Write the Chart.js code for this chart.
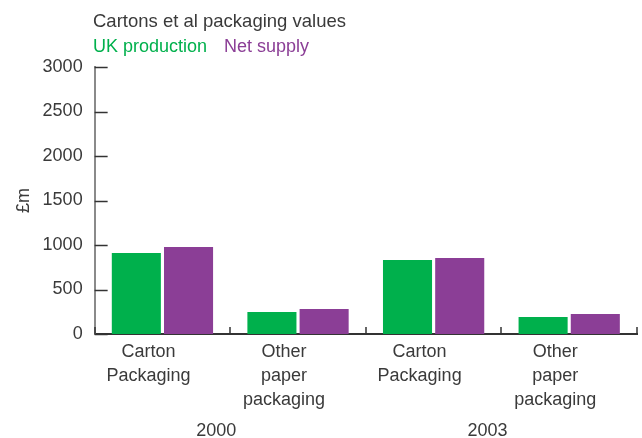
<!DOCTYPE html>
<html>
<head>
<meta charset="utf-8">
<script src="https://cdn.jsdelivr.net/npm/chart.js@4/dist/chart.umd.min.js"></script>
<style>
  html, body { margin: 0; padding: 0; background: #ffffff; }
  #wrap { width: 642px; height: 438px; }
</style>
</head>
<body>
<div id="wrap"><canvas id="chart" width="642" height="438"></canvas></div>
<script>
// Packaging values (£m) by product group and year
const chartTitle = 'Cartons et al packaging values';
const categories = [
  ['Carton', 'Packaging'],
  ['Other', 'paper', 'packaging'],
  ['Carton', 'Packaging'],
  ['Other', 'paper', 'packaging']
];
const years = ['2000', '2003'];
const seriesNames = ['UK production', 'Net supply'];
const ukProduction = [910, 247, 831, 191];
const netSupply = [977, 281, 854, 225];
const yAxisTitle = '£m';

const GREEN = '#00b04c';
const PURPLE = '#8b3e96';
const TEXT = '#3a3a3a';
const FONT = '"Liberation Sans", Arial, sans-serif';

Chart.defaults.font.family = FONT;
Chart.defaults.font.size = 18;
Chart.defaults.color = TEXT;

// Title line plus a coloured text-only key above the plot,
// and the year under each pair of categories
const headerPlugin = {
  id: 'header',
  afterDraw(chart) {
    const ctx = chart.ctx;
    const xs = chart.scales.x;
    ctx.save();
    ctx.textBaseline = 'alphabetic';
    ctx.textAlign = 'left';
    ctx.font = '18.5px ' + FONT;
    ctx.fillStyle = TEXT;
    ctx.fillText(chartTitle, 93, 27);
    ctx.font = '18px ' + FONT;
    let x = 93;
    chart.data.datasets.forEach(ds => {
      ctx.fillStyle = ds.backgroundColor;
      ctx.fillText(ds.label, x, 52);
      x += ctx.measureText(ds.label).width + 17;
    });
    // each year spans two categories
    ctx.textAlign = 'center';
    ctx.fillStyle = TEXT;
    years.forEach((yr, g) => {
      const cx = (xs.getPixelForValue(2 * g) + xs.getPixelForValue(2 * g + 1)) / 2 - 14;
      ctx.fillText(yr, cx, 436);
    });
    ctx.restore();
  }
};

// Short inward tick marks on both axes
const innerTicksPlugin = {
  id: 'innerTicks',
  afterDatasetsDraw(chart) {
    const ctx = chart.ctx;
    const xs = chart.scales.x;
    const ys = chart.scales.y;
    const area = chart.chartArea;
    ctx.save();
    ctx.lineWidth = 1.5;
    ctx.strokeStyle = '#333333';
    ys.ticks.forEach((t, i) => {
      const py = Math.round(ys.getPixelForTick(i)) + 0.5;
      ctx.beginPath();
      ctx.moveTo(area.left, py);
      ctx.lineTo(area.left + 13, py);
      ctx.stroke();
    });
    for (let i = 0; i <= categories.length; i++) {
      const px = Math.round(xs.getPixelForValue(i - 0.5));
      ctx.beginPath();
      ctx.moveTo(px, area.bottom);
      ctx.lineTo(px, area.bottom - 7);
      ctx.stroke();
    }
    ctx.restore();
  }
};

const noGrid = { display: false, drawTicks: false, tickLength: 0 };

new Chart(document.getElementById('chart'), {
  type: 'bar',
  data: {
    labels: categories,
    datasets: [
      { label: seriesNames[0], data: ukProduction, backgroundColor: GREEN,
        categoryPercentage: 0.77, barPercentage: 0.94 },
      { label: seriesNames[1], data: netSupply, backgroundColor: PURPLE,
        categoryPercentage: 0.77, barPercentage: 0.94 }
    ]
  },
  options: {
    responsive: false,
    animation: false,
    layout: { padding: { left: 5, right: 5, top: 67, bottom: 20 } },
    plugins: {
      legend: { display: false },
      title: { display: false },
      tooltip: { enabled: false }
    },
    scales: {
      x: {
        type: 'category',
        position: 'bottom',
        grid: noGrid,
        border: { display: true, color: '#333333', width: 2 },
        ticks: { padding: 6, labelOffset: -14, maxRotation: 0, autoSkip: false,
                 font: { size: 18, lineHeight: 1.333 } }
      },
      y: {
        min: 0,
        max: 3000,
        grid: noGrid,
        border: { display: true, color: '#8a8a8a', width: 2 },
        ticks: { stepSize: 500, padding: 12, font: { size: 18 },
                 callback: v => String(v) },
        title: { display: true, text: yAxisTitle, font: { size: 18 },
                 padding: { top: 8, bottom: -4 } }
      }
    }
  },
  plugins: [headerPlugin, innerTicksPlugin]
});
</script>
</body>
</html>
